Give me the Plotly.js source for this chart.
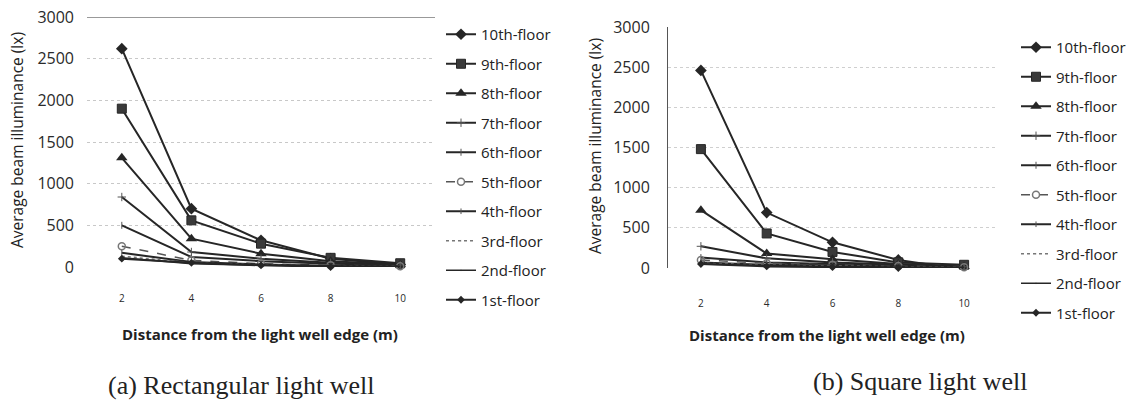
<!DOCTYPE html>
<html>
<head>
<meta charset="utf-8">
<script src="https://cdn.plot.ly/plotly-3.0.1.min.js"></script>
<style>html,body{margin:0;padding:0;background:#fff;}#chart{width:1134px;height:409px;}</style>
</head>
<body>
<div id="chart"></div>
<script>
// Distances (m)
var distances = [2, 4, 6, 8, 10];
var tickLabels = ["2", "4", "6", "8", "10"];
var floors = ["10th-floor", "9th-floor", "8th-floor", "7th-floor", "6th-floor",
              "5th-floor", "4th-floor", "3rd-floor", "2nd-floor", "1st-floor"];

// (a) Rectangular light well — average beam illuminance (lx)
var rect10 = [2620, 700, 320, 100, 30];
var rect9  = [1900, 560, 280, 110, 45];
var rect8  = [1310, 340, 160, 70, 30];
var rect7  = [840, 180, 100, 50, 25];
var rect6  = [500, 120, 70, 40, 20];
var rect5  = [250, 80, 40, 20, 10];
var rect4  = [170, 60, 30, 15, 10];
var rect3  = [130, 50, 25, 10, 5];
var rect2  = [110, 40, 20, 10, 5];
var rect1  = [100, 50, 20, 0, -15];

// (b) Square light well — average beam illuminance (lx)
var sq10 = [2460, 690, 320, 100, -20];
var sq9  = [1480, 430, 200, 70, 40];
var sq8  = [720, 180, 110, 50, 20];
var sq7  = [270, 120, 70, 40, 15];
var sq6  = [130, 70, 50, 30, 10];
var sq5  = [100, 60, 40, 25, 10];
var sq4  = [70, 40, 30, 20, 5];
var sq3  = [60, 35, 25, 15, 5];
var sq2  = [50, 30, 20, 10, 5];
var sq1  = [50, 20, 10, 0, -20];

var rectSeries = [rect10, rect9, rect8, rect7, rect6, rect5, rect4, rect3, rect2, rect1];
var sqSeries = [sq10, sq9, sq8, sq7, sq6, sq5, sq4, sq3, sq2, sq1];

var dark = "#262626";
var styles = [
  {line: {color: dark, width: 2}, marker: {symbol: "diamond", size: 9, color: dark}},
  {line: {color: dark, width: 2}, marker: {symbol: "square", size: 9, color: "#3a3a3a", line: {color: dark, width: 1}}},
  {line: {color: dark, width: 2}, marker: {symbol: "triangle-up", size: 10, color: dark}},
  {line: {color: dark, width: 2}, marker: {symbol: "cross-thin-open", size: 6, color: "#555", line: {color: "#555", width: 1}}},
  {line: {color: dark, width: 2}, marker: {symbol: "line-ns-open", size: 5, color: "#555", line: {color: "#555", width: 1}}},
  {line: {color: "#555", width: 1.5, dash: "dash"}, marker: {symbol: "circle-open", size: 7, color: "#777", line: {color: "#777", width: 1.5}}},
  {line: {color: dark, width: 2}, marker: {symbol: "line-ns-open", size: 4, color: "#555", line: {color: "#555", width: 1}}},
  {line: {color: "#777", width: 1.5, dash: "dot"}, marker: {size: 1, opacity: 0}},
  {line: {color: dark, width: 1.5}, marker: {size: 1, opacity: 0}},
  {line: {color: dark, width: 2}, marker: {symbol: "diamond", size: 6, color: dark}}
];

var traces = [];
function addTraces(series, xa, ya, legendId, prefix) {
  for (var i = 0; i < series.length; i++) {
    var st = styles[i];
    traces.push({
      type: "scatter", mode: "lines+markers",
      x: distances, y: series[i], name: floors[i],
      xaxis: xa, yaxis: ya, legend: legendId,
      legendgroup: prefix + i,
      line: st.line, marker: st.marker,
      cliponaxis: false,
      hoverinfo: "x+y+name"
    });
  }
}
addTraces(rectSeries, "x", "y", "legend", "a");
addTraces(sqSeries, "x2", "y2", "legend2", "b");

var W = 1134, H = 409;
function px(v) { return v / W; }
function py(v) { return 1 - v / H; }

var tickFont = {family: "Open Sans, sans-serif", size: 16, color: "#2a2a2a"};
var xTickFont = {family: "Open Sans, sans-serif", size: 10, color: "#2a2a2a"};
var legFont = {family: "Open Sans, sans-serif", size: 15, color: "#222"};

function ann(text, x, y, font, angle) {
  return {text: text, xref: "paper", yref: "paper", x: px(x), y: py(y),
          xanchor: "center", yanchor: "middle", textangle: angle || 0,
          showarrow: false, font: font};
}
var yTitleFont = {family: "Open Sans, sans-serif", size: 15.5, color: "#222"};
var xTitleFont = {family: "Open Sans, sans-serif", size: 15, color: "#222"};
var capFont = {family: "Liberation Serif, serif", size: 26, color: "#222"};

var layout = {
  width: W, height: H,
  margin: {l: 0, r: 0, t: 0, b: 0},
  paper_bgcolor: "#fff", plot_bgcolor: "rgba(0,0,0,0)",
  showlegend: true,
  xaxis: {
    domain: [px(87), px(435)], range: [1, 11],
    tickvals: distances, ticktext: tickLabels,
    showgrid: false, zeroline: false, showline: false,
    ticks: "", ticklabelstandoff: 24, tickfont: xTickFont, anchor: "y"
  },
  yaxis: {
    domain: [py(267), py(17)], range: [0, 3000], dtick: 500,
    showgrid: true, gridcolor: "#c8c8c8", griddash: "dot", gridwidth: 1,
    zeroline: false, showline: false, ticks: "",
    ticklabelstandoff: 12, tickfont: tickFont, anchor: "x"
  },
  xaxis2: {
    domain: [px(668), px(997)], range: [1, 11],
    tickvals: distances, ticktext: tickLabels,
    showgrid: false, zeroline: false, showline: false,
    ticks: "", ticklabelstandoff: 28, tickfont: xTickFont, anchor: "y2"
  },
  yaxis2: {
    domain: [py(268), py(27)], range: [0, 3000], dtick: 500,
    showgrid: true, gridcolor: "#cfcfcf", griddash: "dot", gridwidth: 1,
    zeroline: false, showline: true, linecolor: "#555", linewidth: 1, mirror: false,
    ticks: "", ticklabelstandoff: 14, tickfont: tickFont, anchor: "x2"
  },
  legend: {
    x: px(441), y: py(18), xanchor: "left", yanchor: "top",
    font: legFont, bgcolor: "rgba(0,0,0,0)", borderwidth: 0,
    traceorder: "grouped", tracegroupgap: 7, itemwidth: 30
  },
  legend2: {
    x: px(1016), y: py(31), xanchor: "left", yanchor: "top",
    font: legFont, bgcolor: "rgba(0,0,0,0)", borderwidth: 0,
    traceorder: "grouped", tracegroupgap: 7, itemwidth: 30
  },
  shapes: [
    {type: "line", xref: "x", yref: "y", x0: 1, x1: 11, y0: 3000, y1: 3000,
     line: {color: "#777", width: 1.5}}
  ],
  annotations: [
    ann("Average beam illuminance (lx)", 17, 140, yTitleFont, -90),
    ann("Average beam illuminance (lx)", 595, 146, yTitleFont, -90),
    ann("<b>Distance from the light well edge (m)</b>", 260, 334, xTitleFont),
    ann("<b>Distance from the light well edge (m)</b>", 827, 335, xTitleFont),
    ann("(a) Rectangular light well", 241, 385, capFont),
    ann("(b) Square light well", 920, 381, capFont)
  ]
};

Plotly.newPlot("chart", traces, layout, {displayModeBar: false, staticPlot: true});
</script>
</body>
</html>
